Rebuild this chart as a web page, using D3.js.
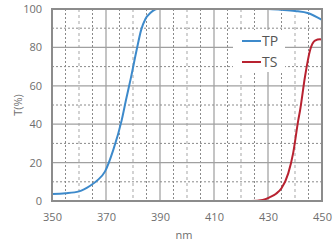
<!DOCTYPE html>
<html><head><meta charset="utf-8">
<script src="https://cdn.jsdelivr.net/npm/d3@7"></script>
<style>body{margin:0;background:#fff}svg{display:block}text{font-family:"Open Sans",sans-serif;fill:#6e6e6e}</style>
</head><body><svg id="c" width="333" height="250"></svg>
<script>
const xTicks = [350,370,390,410,430,450];
const yTicks = [0,20,40,60,80,100];
const tpNm  = [350,355,360,364,367,369.6,372.7,375.8,377.4,379.2,381.4,383,384.6,386.5,388.9,390,400,410,420,430,435,440,445,450];
const tpVal = [3.6,4,5,7.8,11,15.3,26.6,42,52.6,64,79,89,94.8,98,100,100,100,100,100,100,99.6,99,97.8,94.3];
const tsNm  = [350,370,390,410,424,428,430.7,433,435,437.5,439.3,441.2,441.9,443.7,445.6,447.4,449.3,450];
const tsVal = [0,0,0,0,0,0.5,2,3.8,6.6,14.4,24.8,42,47.4,64.7,78.6,83.5,84.2,84];
const series = [{name:"TP",color:"#3d8acb"},{name:"TS",color:"#b82230"}];

const svg = d3.select("#c");
const L=52,R=322,T=9,B=201;
const x = d3.scaleLinear().domain([350,450]).range([L,R]);
const y = d3.scaleLinear().domain([0,100]).range([B,T]);
const g = svg.append("g");
d3.range(355,450,5).forEach(v=>{
  const major = v%20===10;
  const mid = v%10===0;
  g.append("line").attr("x1",x(v)).attr("x2",x(v)).attr("y1",T).attr("y2",B)
   .attr("stroke", major?"#c4c4c4":(mid?"#c8c8c8":"#8a8a8a"))
   .attr("stroke-width", major?2:(mid?1.6:1))
   .attr("stroke-dasharray", major?null:(mid?"3,3":"2,2"));
});
d3.range(10,100,10).forEach(v=>{
  const major = v%20===0;
  g.append("line").attr("y1",y(v)).attr("y2",y(v)).attr("x1",L).attr("x2",R)
   .attr("stroke", major?"#a0a0a0":"#8a8a8a")
   .attr("stroke-width", major?1.3:1)
   .attr("stroke-dasharray", major?null:"2,2");
});
svg.append("rect").attr("x",233).attr("y",30).attr("width",52).attr("height",42).attr("fill","#fff");
const line = d3.line().x(d=>x(d[0])).y(d=>y(d[1])).curve(d3.curveMonotoneX);
svg.append("path").datum(tsNm.map((n,i)=>[n,tsVal[i]])).attr("d",line).attr("fill","none").attr("stroke",series[1].color).attr("stroke-width",2);
svg.append("path").datum(tpNm.map((n,i)=>[n,tpVal[i]])).attr("d",line).attr("fill","none").attr("stroke",series[0].color).attr("stroke-width",2);
svg.append("rect").attr("x",L).attr("y",T).attr("width",R-L).attr("height",B-T).attr("fill","none").attr("stroke","#8c8c8c").attr("stroke-width",2);
const xa = d3.axisBottom(x).tickValues(xTicks).tickSize(0).tickPadding(12);
svg.append("g").attr("transform",`translate(0,${B})`).call(xa).call(s=>s.select(".domain").remove())
  .selectAll("text").style("font-size","11px").attr("fill","#6e6e6e").style("font-family","'Open Sans',sans-serif");
const ya = d3.axisLeft(y).tickValues(yTicks).tickSize(0).tickPadding(10);
svg.append("g").attr("transform",`translate(${L},0)`).call(ya).call(s=>s.select(".domain").remove())
  .selectAll("text").style("font-size","11px").attr("fill","#6e6e6e").style("font-family","'Open Sans',sans-serif");
svg.append("text").attr("x",184).attr("y",239).attr("text-anchor","middle").style("font-size","11px").text("nm");
svg.append("text").attr("transform","translate(22,105) rotate(-90)").attr("text-anchor","middle").style("font-size","11px").text("T(%)");
series.forEach((s,i)=>{
  const yy = 41 + i*21;
  svg.append("line").attr("x1",242).attr("x2",261).attr("y1",yy).attr("y2",yy).attr("stroke",s.color).attr("stroke-width",2);
  svg.append("text").attr("x",262).attr("y",yy+5).style("font-size","14px").style("fill","#555").text(s.name);
});
</script></body></html>
